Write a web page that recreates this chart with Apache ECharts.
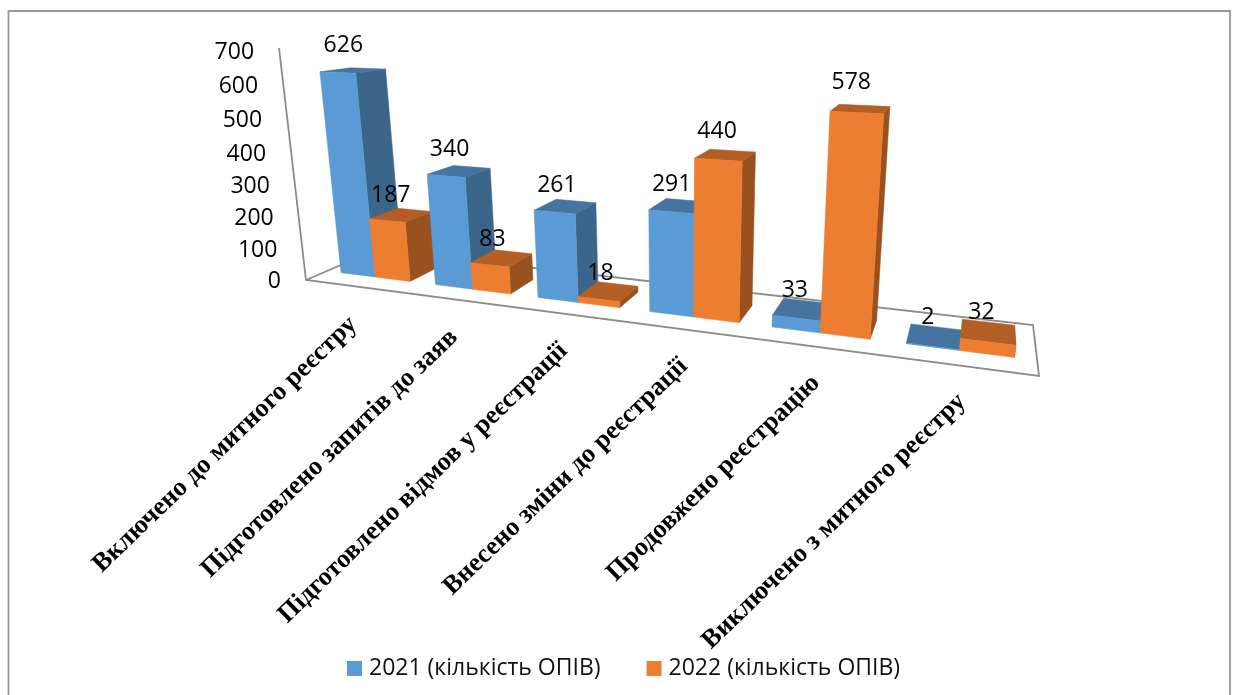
<!DOCTYPE html>
<html><head><meta charset="utf-8">
<style>html,body{margin:0;padding:0;background:#fff}#c{width:1235px;height:695px}</style>
<script src="https://cdn.jsdelivr.net/npm/echarts@6/dist/echarts.min.js"></script>
</head><body><div id="c"></div>
<script>
var categories = ['Включено до митного реєстру','Підготовлено запитів до заяв','Підготовлено відмов у реєстрації','Внесено зміни до реєстрації','Продовжено реєстрацію','Виключено з митного реєстру'];
var values2021 = [626,340,261,291,33,2];
var values2022 = [187,83,18,440,578,32];
var tickLabels = [0,100,200,300,400,500,600,700];
var name2021 = '2021 (кількість ОПІВ)';
var name2022 = '2022 (кількість ОПІВ)';

// Perspective camera: floor quad + vertical vanishing point
var A=[306,280],B=[1039,376],C=[1033,325],D=[376,250],V=[680,3500],E=[279,48];
function floorMatrix(){
  var x0=A[0],y0=A[1],x1=B[0],y1=B[1],x2=C[0],y2=C[1],x3=D[0],y3=D[1];
  var dx1=x1-x2,dx2=x3-x2,sx=x0-x1+x2-x3,dy1=y1-y2,dy2=y3-y2,sy=y0-y1+y2-y3;
  var den=dx1*dy2-dx2*dy1;
  var g=(sx*dy2-dx2*sy)/den,h=(dx1*sy-sx*dy1)/den;
  return [[x1-x0+g*x1,x3-x0+h*x3,x0],[y1-y0+g*y1,y3-y0+h*y3,y0],[g,h,1]];
}
var F=floorMatrix();
var cV=(E[1]-A[1])/(V[1]-E[1]);
function project(u,w,h){
  var X=F[0][0]*u+F[0][1]*w+F[0][2]+cV*V[0]*h;
  var Y=F[1][0]*u+F[1][1]*w+F[1][2]+cV*V[1]*h;
  var W=F[2][0]*u+F[2][1]*w+F[2][2]+cV*h;
  return [X/W,Y/W];
}
var G={left:100,top:100,width:600,height:400};
var W_FRONT=0.28,W_BACK=0.69,GAP=0.35;
function toUH(api,cat,val){
  var p=api.coord([cat,val]);
  return {u:(p[0]-G.left)/G.width,h:(G.top+G.height-p[1])/G.height,band:api.size([1,0])[0]/G.width};
}
function barRender(seriesIdx,front,side,top){
  return function(params,api){
    var cat=api.value(0),val=api.value(1);
    var q=toUH(api,cat,val);
    var barW=q.band/(2+2*GAP)*0.993;
    var u0=0.004+0.993*(q.u-q.band/2)+(GAP+seriesIdx)*barW,u1=u0+barW,uc=(u0+u1)/2;
    var f0=project(u0,W_FRONT,0),f1=project(u1,W_FRONT,0),f2=project(u1,W_FRONT,q.h),f3=project(u0,W_FRONT,q.h);
    var b0=project(u0,W_BACK,q.h),b1=project(u1,W_BACK,q.h),b2=project(u1,W_BACK,0);
    var lab=project(uc,W_BACK,q.h*1.05+40/700);
    var z=cat*2+seriesIdx;
    function poly(pts,c){return {type:'polygon',z2:z,shape:{points:pts},style:{fill:c,stroke:c,lineWidth:0.5}};}
    return {type:'group',children:[
      poly([f1,b2,b1,f2],side),
      poly([f3,f2,b1,b0],top),
      poly([f0,f1,f2,f3],front),
      {type:'text',z2:100,style:{text:String(val),x:lab[0]-7-18*(1-uc)-8*q.h*uc+2*q.h,y:lab[1]+6*uc,align:'center',verticalAlign:'middle',font:'23px "Open Sans"',fill:'#000'}}
    ]};
  };
}
function axisRender(params,api){
  var tick=api.value(0);
  var q=toUH(api,0,tick);
  var p=project(0,0,q.h);
  return {type:'text',style:{text:String(tick),x:p[0]-25,y:p[1]+1+3*q.h,align:'right',verticalAlign:'middle',font:'23px "Open Sans"',fill:'#000'}};
}
function catRender(params,api){
  var i=api.value(0);
  var q=toUH(api,i,0);
  var p=project(q.u,0,0);
  var t=q.u;
  return {type:'text',z2:200,x:p[0]+2*t,y:p[1]+35-3*t,rotation:44*Math.PI/180,style:{text:categories[i],x:0,y:0,align:'right',verticalAlign:'middle',font:'bold 26.3px "Liberation Serif"',fill:'#000'}};
}
function wallRender(params,api){
  var lc='#8c8c8c';
  var corners=[project(0,0,1),project(0,0,0),project(1,0,0),project(1,1,0),project(0,1,0),project(0,0,0)];
  return {type:'polyline',z2:-1,shape:{points:corners},style:{fill:null,stroke:lc,lineWidth:1.8}};
}
var chart=echarts.init(document.getElementById('c'),null,{renderer:'canvas'});
chart.setOption({
  animation:false,backgroundColor:'#fff',
  grid:G,
  xAxis:{type:'category',data:categories,show:false},
  yAxis:{type:'value',min:0,max:700,interval:100,show:false},
  legend:{show:true,data:[name2021,name2022],left:347,top:657,itemWidth:15,itemHeight:15,itemGap:46,icon:'rect',padding:0,textStyle:{fontFamily:'Open Sans',fontSize:23,color:'#111',padding:[0,0,0,2]}},
  graphic:[{type:'rect',z:-10,shape:{x:8.5,y:11,width:1221.5,height:700},style:{fill:'#fff',stroke:'#999',lineWidth:1.8}}],
  series:[
    {type:'custom',name:'floor',silent:true,coordinateSystem:'cartesian2d',data:[[0]],renderItem:wallRender,clip:false},
    {type:'custom',name:name2021,coordinateSystem:'cartesian2d',itemStyle:{color:'#5B9BD5'},encode:{x:0,y:1},data:values2021.map(function(v,i){return [i,v];}),renderItem:barRender(0,'#5B9BD5','#3B6589','#44749F'),clip:false},
    {type:'custom',name:name2022,coordinateSystem:'cartesian2d',itemStyle:{color:'#ED7D31'},encode:{x:0,y:1},data:values2022.map(function(v,i){return [i,v];}),renderItem:barRender(1,'#ED7D31','#99511F','#B25E25'),clip:false},
    {type:'custom',name:'ticks',silent:true,coordinateSystem:'cartesian2d',data:tickLabels.map(function(v){return [v];}),renderItem:axisRender,clip:false},
    {type:'custom',name:'cats',silent:true,coordinateSystem:'cartesian2d',data:categories.map(function(c,i){return [i];}),renderItem:catRender,clip:false}
  ]
});
</script></body></html>
